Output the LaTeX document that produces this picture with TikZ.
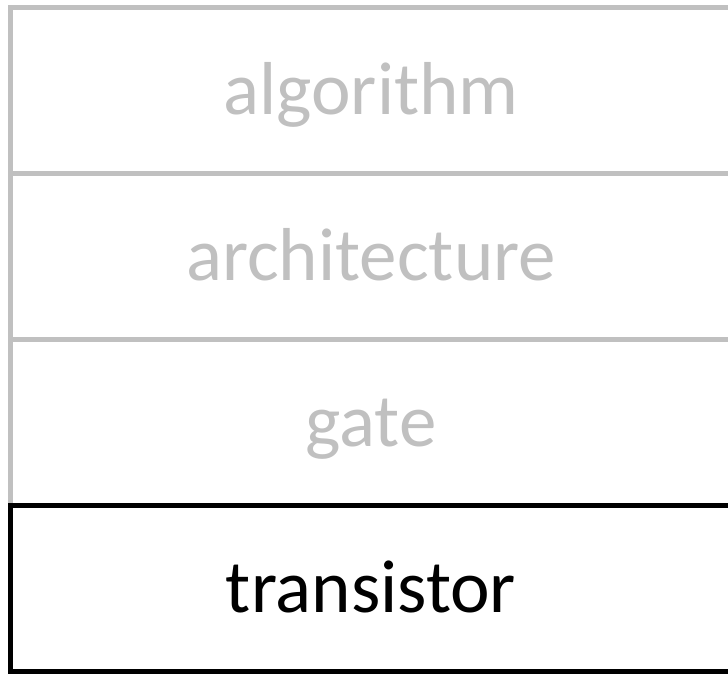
\documentclass[tikz,border=0pt]{standalone}
\usepackage{fontspec}
\setmainfont{Carlito}
\usepackage{xcolor}
\usetikzlibrary{positioning}

\definecolor{layergray}{HTML}{C0C0C0}

\begin{document}
\begin{tikzpicture}[node distance=0pt, font=\fontsize{75}{90}\selectfont]
    \useasboundingbox (0pt,0pt) rectangle (728pt,-673pt);
    \tikzset{layer/.style={draw=layergray, line width=5pt, rectangle, outer sep=0pt, inner sep=0pt,
        minimum width=722pt, minimum height=166pt, text=layergray, text height=57pt, text depth=10pt}}

    \node [layer] (algo) at (371pt,-90.5pt) {algorithm};
    \node [layer, below=of algo] (arch) {architecture};
    \node [layer, below=of arch] (gate) {gate};
    \node [layer, below=of gate, draw=black, text=black] (trans) {transistor};
\end{tikzpicture}
\end{document}
